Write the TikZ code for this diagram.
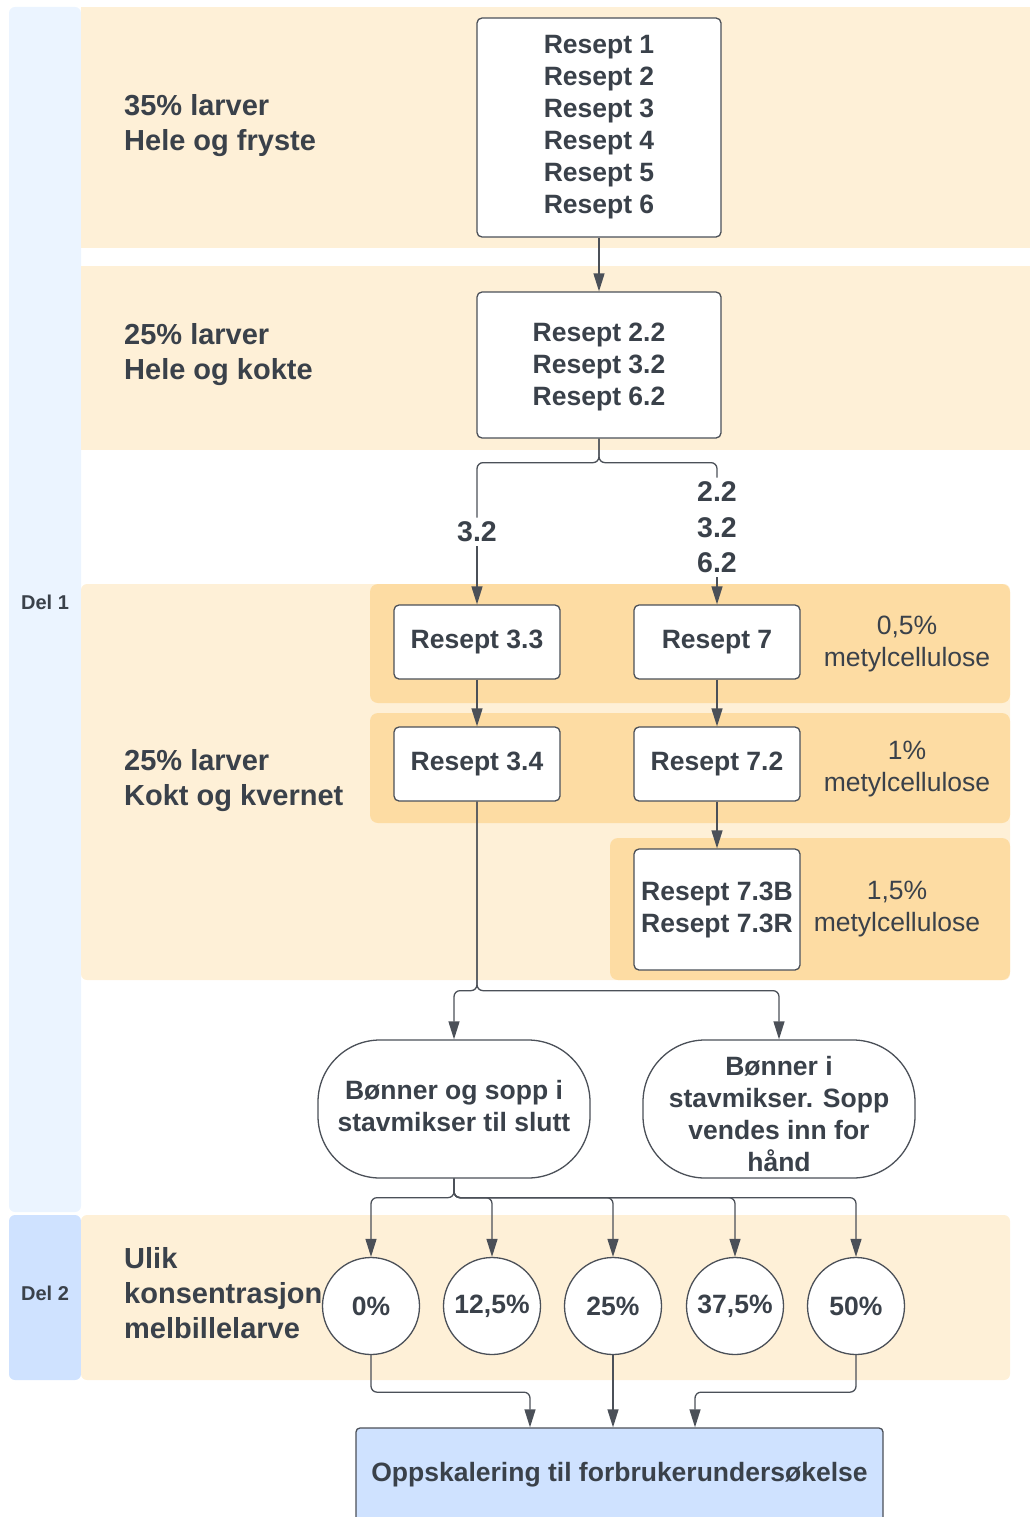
\documentclass[tikz,border=0pt]{standalone}
\usepackage{fontspec}
\setmainfont{Liberation Sans}
\usetikzlibrary{arrows.meta,calc}
\definecolor{textc}{HTML}{3A414A}
\definecolor{linec}{HTML}{4B5058}
\definecolor{cream}{HTML}{FEF0D7}
\definecolor{orangeb}{HTML}{FDDCA3}
\definecolor{blueA}{HTML}{EBF4FF}
\definecolor{blueB}{HTML}{CFE2FF}
\tikzset{
  bigfont/.style={font=\fontsize{26.5}{32}\selectfont\bfseries},
  box/.style={draw=linec, line width=1.3pt, fill=white, rounded corners=5pt, text=textc, bigfont, align=center, inner sep=0pt},
  stadium/.style={box, rounded corners=62pt, minimum width=272pt, minimum height=138pt},
  btxt/.style={text=textc, bigfont, align=center, inner sep=0pt},
  pct/.style={draw=linec, line width=1.3pt, fill=white, circle, minimum size=97pt, inner sep=0pt, text=textc, bigfont},
  lefttxt/.style={anchor=west, align=left, text=textc, inner sep=0pt, font=\fontsize{29}{35}\selectfont\bfseries},
  deltxt/.style={text=textc, inner sep=0pt, font=\fontsize{20}{24}\selectfont\bfseries},
  mctxt/.style={text=textc, inner sep=0pt, align=center, font=\fontsize{26.5}{32}\selectfont},
  lbl/.style={text=textc, inner sep=4pt, align=center, fill=white, font=\fontsize{28.5}{35.5}\selectfont\bfseries},
  conn/.style={draw=linec, line width=1.3pt, rounded corners=6pt},
  arr/.style={conn, -{Triangle[width=11pt,length=18pt]}},
}
\begin{document}
\begin{tikzpicture}[x=1pt,y=-1pt]
\useasboundingbox (0,0) rectangle (1030,1517);
\clip (0,0) rectangle (1030,1517);
% lanes
\fill[blueA, rounded corners=6pt] (9,7) rectangle (81,1212);
\fill[blueB, rounded corners=6pt] (9,1215) rectangle (81,1380);
\fill[cream] (81,7) rectangle (1030,248);
\fill[cream] (81,266) rectangle (1030,450);
\fill[cream, rounded corners=6pt] (81,584) rectangle (1010,980);
\fill[cream, rounded corners=6pt] (81,1215) rectangle (1010,1380);
\fill[orangeb, rounded corners=8pt] (370,584) rectangle (1010,703);
\fill[orangeb, rounded corners=8pt] (370,713) rectangle (1010,823);
\fill[orangeb, rounded corners=8pt] (610,838) rectangle (1010,980);
% lane labels
\node[deltxt] (del1) at (45,602) {Del 1};
\node[deltxt] (del2) at (45,1293) {Del 2};
\node[lefttxt] (t1) at (124,125.5) {35\% larver\\Hele og fryste};
\node[lefttxt] (t2) at (124,355) {25\% larver\\Hele og kokte};
\node[lefttxt] (t3) at (124,780.5) {25\% larver\\Kokt og kvernet};
\node[lefttxt] (t4) at (124,1293) {Ulik\\konsentrasjon\\melbillelarve};
% methylcellulose labels
\node[mctxt] (m1) at (907,644) {0,5\%\\metylcellulose};
\node[mctxt] (m2) at (907,769) {1\%\\metylcellulose};
\node[mctxt] (m3) at (897,909) {1,5\%\\metylcellulose};
% nodes
\node[box, minimum width=244pt, minimum height=219pt] (r16) at (599,127.5) {Resept 1\\Resept 2\\Resept 3\\Resept 4\\Resept 5\\Resept 6};
\node[box, minimum width=244pt, minimum height=146pt] (r2) at (599,365) {};
\node[btxt] (r2t) at (599,367) {Resept 2.2\\Resept 3.2\\Resept 6.2};
\node[box, minimum width=166pt, minimum height=74pt] (r33) at (477,642) {Resept 3.3};
\node[box, minimum width=166pt, minimum height=74pt] (r7) at (717,642) {Resept 7};
\node[box, minimum width=166pt, minimum height=74pt] (r34) at (477,764) {Resept 3.4};
\node[box, minimum width=166pt, minimum height=74pt] (r72) at (717,764) {Resept 7.2};
\node[box, minimum width=166pt, minimum height=121pt] (r73) at (717,909.5) {Resept 7.3B\\Resept 7.3R};
\node[lbl] (l32) at (477,532) {3.2};
\node[lbl] (l7) at (717,527.5) {2.2\\3.2\\6.2};
\node[stadium] (bo1) at (454,1109) {};
\node[btxt] (bo1t) at (454,1106) {Bønner og sopp i\\stavmikser til slutt};
\node[stadium] (bo2) at (779,1109) {};
\node[btxt] (bo2t) at (779,1114) {Bønner i\\stavmikser. Sopp\\vendes inn for\\hånd};
\node[pct] (c0) at (371,1306) {0\%};
\node[pct] (c12) at (492,1306) {12,5\%};
\node[pct] (c25) at (613,1306) {25\%};
\node[pct] (c37) at (735,1306) {37,5\%};
\node[pct] (c50) at (856,1306) {50\%};
\node[box, fill=blueB, rounded corners=4pt, minimum width=527pt, minimum height=100pt] (fin) at (619.5,1478) {};
\node[btxt] (fint) at (619.5,1475) {Oppskalering til forbrukerundersøkelse};
% connectors
\draw[arr] (r16.south) -- (r2.north);
\draw[conn] (r2.south) -- ++(0,24) -| (l32.north);
\draw[arr] (l32.south) -- (r33.north);
\draw[conn] (r2.south) -- ++(0,24) -| (l7.north);
\draw[arr] (l7.south) -- (r7.north);
\draw[arr] (r33.south) -- (r34.north);
\draw[arr] (r7.south) -- (r72.north);
\draw[arr] (r72.south) -- (r73.north);
\draw[arr] (r34.south) -- ++(0,189) -| (bo1.north);
\draw[arr] (r34.south) -- ++(0,189) -| (bo2.north);
\foreach \c in {c0,c12,c25,c37,c50}{
  \draw[arr] (bo1.south) -- ++(0,19) -| (\c.north);
}
\draw[arr] (c0.south) -- ++(0,37) -| ([xshift=-89.5pt]fin.north);
\draw[arr] (c25.south) -- (c25.south |- fin.north);
\draw[arr] (c50.south) -- ++(0,37) -| ([xshift=75.5pt]fin.north);
\end{tikzpicture}
\end{document}
